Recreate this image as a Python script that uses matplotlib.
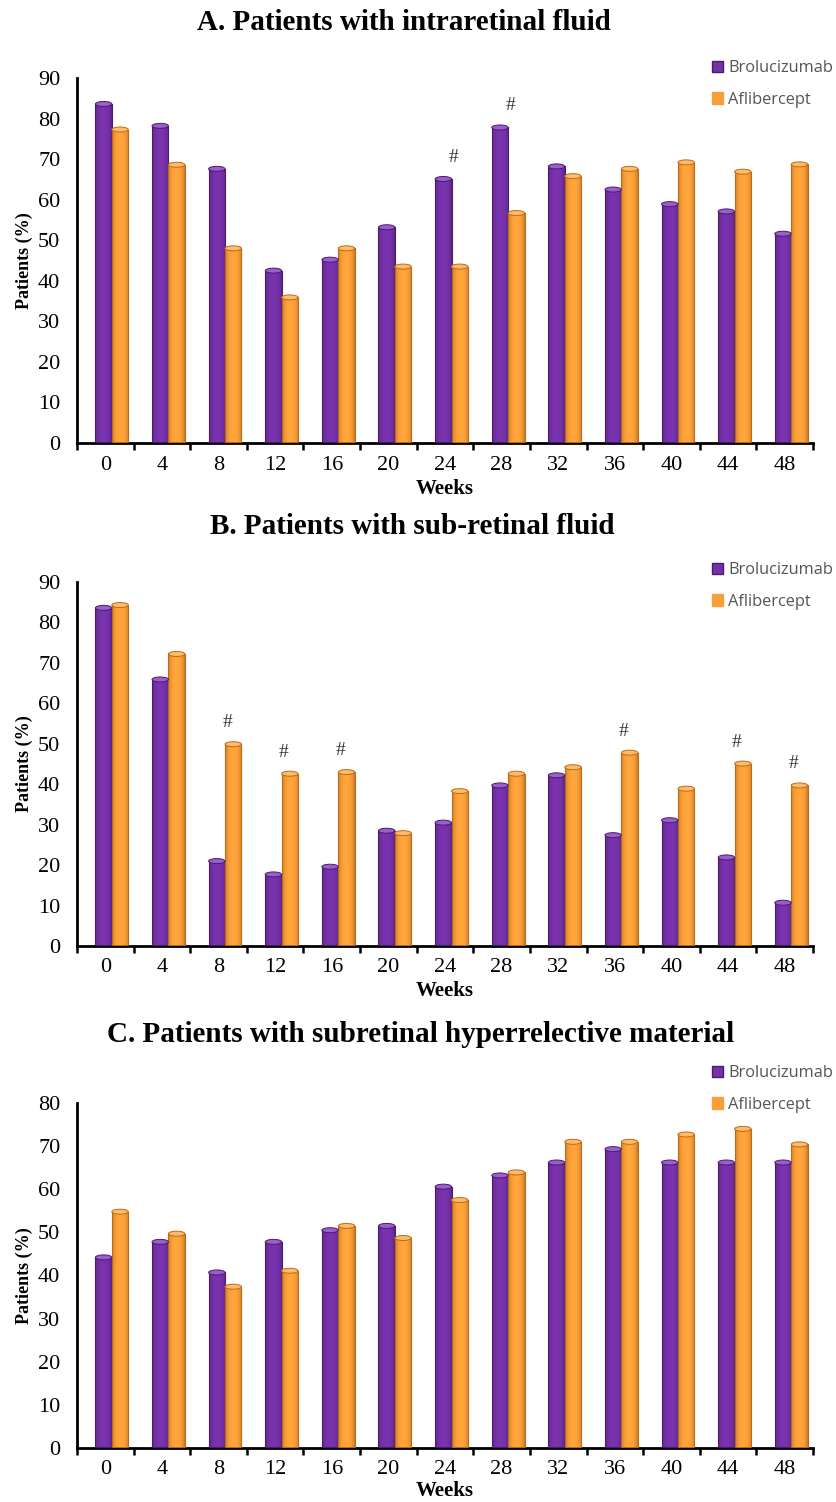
import numpy as np
import matplotlib
matplotlib.use("Agg")
import matplotlib.pyplot as plt
from matplotlib.patches import Ellipse, Rectangle

weeks = ["0", "4", "8", "12", "16", "20", "24", "28", "32", "36", "40", "44", "48"]

# A. intraretinal fluid
irf_bro = [83.4, 78.0, 67.4, 42.3, 45.0, 53.0, 64.9, 77.6, 68.0, 62.3, 58.7, 56.9, 51.4]
irf_afl = [77.1, 68.4, 47.8, 35.7, 47.8, 43.3, 43.3, 56.5, 65.6, 67.4, 69.0, 66.7, 68.5]
irf_hash = [6, 7]          # '#' over Brolucizumab bars

# B. sub-retinal fluid
srf_bro = [83.4, 65.7, 20.8, 17.5, 19.4, 28.3, 30.3, 39.5, 42.0, 27.2, 30.9, 21.7, 10.5]
srf_afl = [84.1, 72.0, 49.7, 42.4, 42.8, 27.7, 38.1, 42.4, 44.0, 47.6, 38.7, 44.9, 39.5]
srf_hash = [2, 3, 4, 9, 11, 12]   # '#' over Aflibercept bars

# C. subretinal hyperreflective material
shrm_bro = [44.0, 47.6, 40.5, 47.6, 50.3, 51.3, 60.4, 63.0, 66.0, 69.1, 66.0, 66.0, 66.0]
shrm_afl = [54.6, 49.5, 37.2, 40.9, 51.3, 48.5, 57.3, 63.7, 70.8, 70.8, 72.5, 73.8, 70.2]

PURPLE = "#7531A8"
PURPLE_DK = "#4A1A70"
PURPLE_LT = "#9A5FCB"
ORANGE = "#FA9E38"
ORANGE_DK = "#C06A12"
ORANGE_LT = "#FDBB6E"

W, H = 837, 1502
fig = plt.figure(figsize=(W / 100, H / 100), dpi=100)
fig.patch.set_facecolor("white")

SERIF = ["Liberation Serif", "DejaVu Serif"]
SANS = ["Open Sans", "DejaVu Sans"]


def px_axes(left, top, right, bottom):
    return fig.add_axes([left / W, 1 - bottom / H, (right - left) / W, (bottom - top) / H])


def cyl_bars(ax, x, vals, color, dark, light, ymax, ax_h_px):
    bw = 0.29
    cap_h = 5.0 * ymax / ax_h_px
    bars = ax.bar(x, vals, width=bw, color=color, edgecolor=dark, linewidth=0.8,
                  bottom=0.2, zorder=2)
    grad = np.linspace(0, 1, 64)
    shade = 0.72 + 0.33 * np.sin(np.pi * grad) ** 0.5
    for b in bars:
        x0, w = b.get_x(), b.get_width()
        top = b.get_height() + b.get_y()
        rgb = np.array(matplotlib.colors.to_rgb(color))
        img = (shade[None, :, None] * rgb[None, None, :]).clip(0, 1)
        im = ax.imshow(img, extent=[x0, x0 + w, b.get_y(), top], aspect="auto",
                       zorder=2.5, interpolation="bilinear")
        im.set_clip_path(b)
        ax.add_patch(Rectangle((x0, b.get_y()), w, top - b.get_y(), fill=False,
                               edgecolor=dark, linewidth=0.7, zorder=2.6))
        ax.add_patch(Ellipse((x0 + w / 2, top), w, cap_h, facecolor=light,
                             edgecolor=dark, linewidth=0.7, zorder=3))
    return bars


def panel(title, title_x, title_y, box, bro, afl, ymax, hash_idx, hash_on_afl, legend_y, weeks_y):
    left, top, right, bottom = box
    ax = px_axes(left, top, right, bottom)
    n = len(weeks)
    idx = np.arange(n)
    ax_h = bottom - top
    cyl_bars(ax, idx + 0.47, bro, PURPLE, PURPLE_DK, PURPLE_LT, ymax, ax_h)
    cyl_bars(ax, idx + 0.76, afl, ORANGE, ORANGE_DK, ORANGE_LT, ymax, ax_h)

    for i in hash_idx:
        v = afl[i] if hash_on_afl else bro[i]
        ax.text(i + 0.65, v + 5.5, "#", ha="center", va="center",
                fontsize=14, family=SERIF, color="#333333")

    ax.set_xlim(0, n)
    ax.set_ylim(0, ymax)
    ax.set_xticks(np.arange(n + 1))
    ax.set_xticklabels([])
    ax.set_xticks(idx + 0.5, minor=True)
    ax.set_xticklabels(weeks, minor=True, family=SERIF, fontsize=16)
    ax.tick_params(axis="x", which="major", direction="out", length=5, width=1.8)
    ax.tick_params(axis="x", which="minor", length=0, pad=9)
    ax.set_yticks(np.arange(0, ymax + 1, 10))
    ax.set_yticklabels([str(v) for v in range(0, ymax + 1, 10)], family=SERIF, fontsize=16)
    ax.tick_params(axis="y", length=0, pad=12)
    for s in ["top", "right"]:
        ax.spines[s].set_visible(False)
    ax.spines["left"].set_linewidth(2)
    ax.spines["bottom"].set_linewidth(2)
    ax.set_facecolor("none")

    ax.set_ylabel("Patients (%)", family=SERIF, fontweight="bold", fontsize=13, labelpad=4)
    fig.text(title_x / W, 1 - title_y / H, title, ha="center", va="center",
             family=SERIF, fontweight="bold", fontsize=21)
    fig.text(((left + right) / 2) / W, 1 - weeks_y / H, "Weeks", ha="center", va="center",
             family=SERIF, fontweight="bold", fontsize=15)

    handles = [Rectangle((0, 0), 1, 1, facecolor=PURPLE, edgecolor=PURPLE_DK),
               Rectangle((0, 0), 1, 1, facecolor=ORANGE, edgecolor=ORANGE)]
    fig.legend(handles, ["Brolucizumab", "Aflibercept"], loc="upper left",
               bbox_to_anchor=(712 / W, 1 - legend_y / H), frameon=False,
               prop={"family": SANS, "size": 11.8}, labelcolor="#555555",
               handlelength=0.7, handleheight=0.7, handletextpad=0.3,
               labelspacing=0.95, borderaxespad=0, borderpad=0)
    return ax


panel("A. Patients with intraretinal fluid", 404, 22, (77, 78, 813, 443),
      irf_bro, irf_afl, 90, irf_hash, False, 60, 489)
panel("B. Patients with sub-retinal fluid", 412, 527, (77, 582, 813, 946),
      srf_bro, srf_afl, 90, srf_hash, True, 562, 991)
panel("C. Patients with subretinal hyperrelective material", 421, 1035, (77, 1103, 813, 1448),
      shrm_bro, shrm_afl, 80, [], False, 1065, 1491)

fig.savefig("out.png", dpi=100, facecolor="white")
